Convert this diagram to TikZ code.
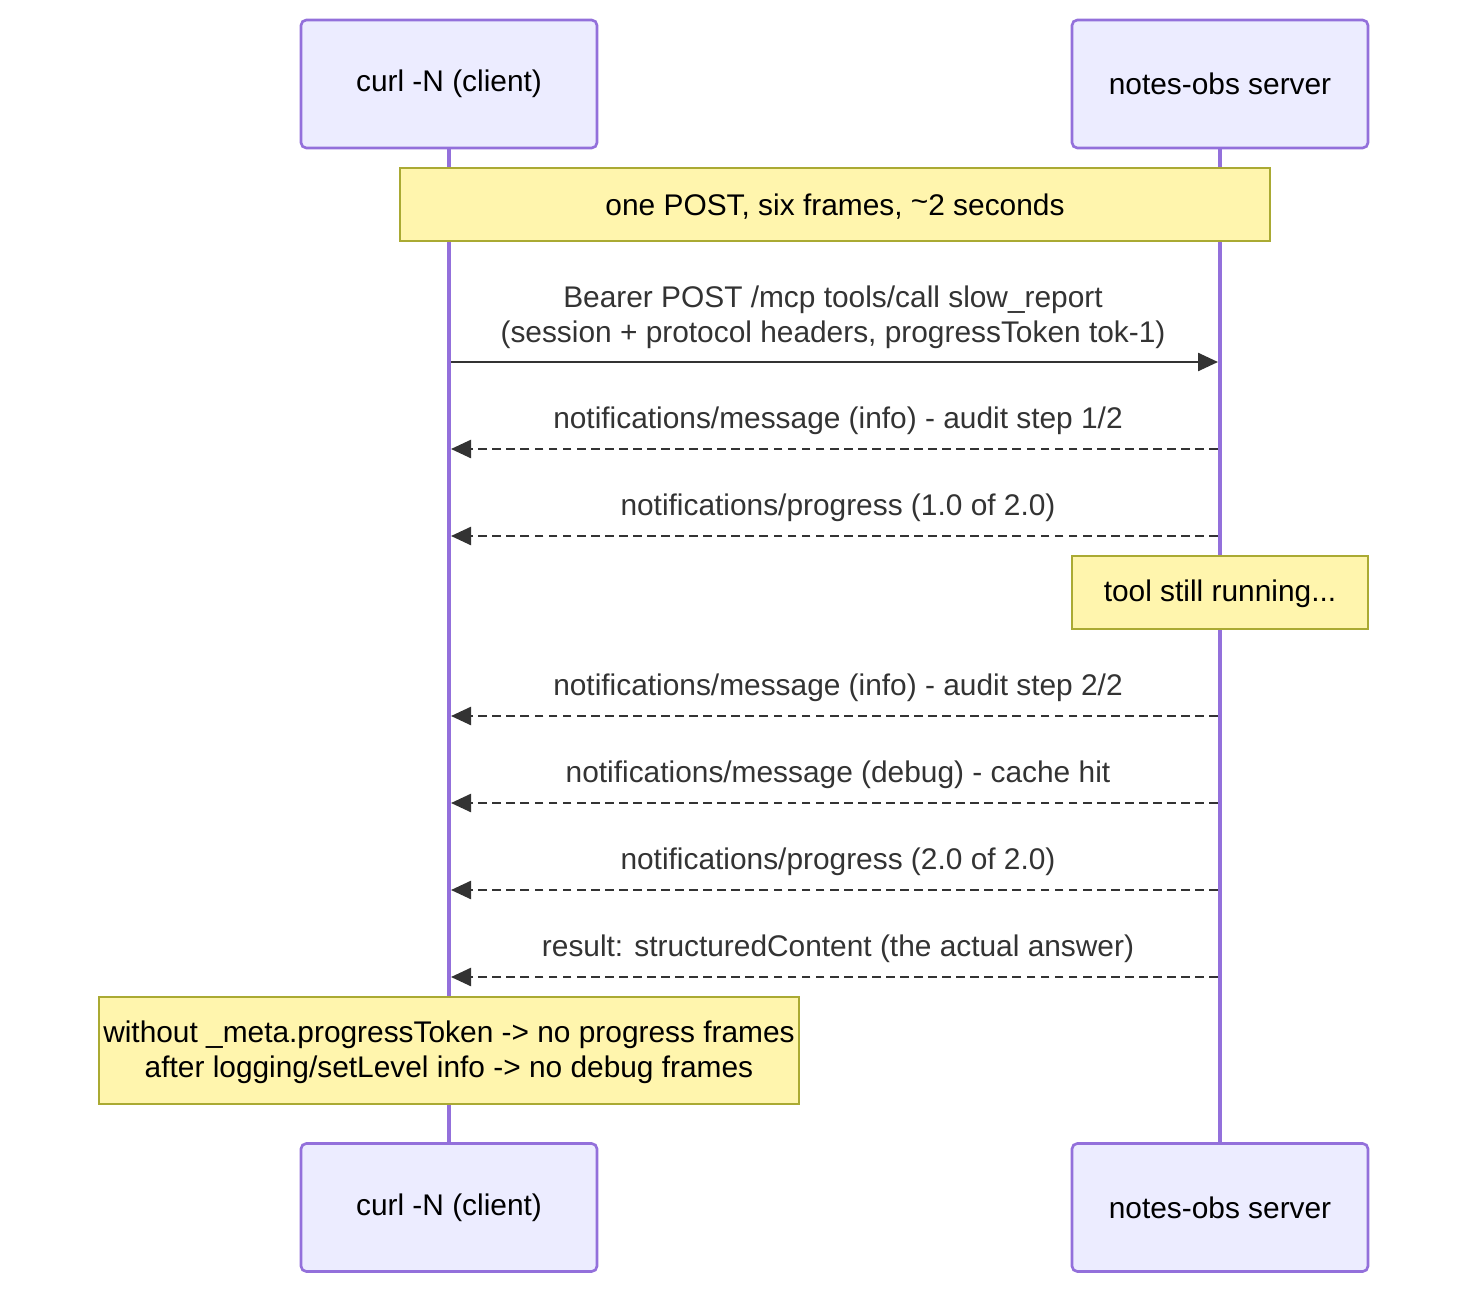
\documentclass[tikz,border=0pt]{standalone}
\usepackage{fontspec}
\setmainfont{Liberation Sans}
\usetikzlibrary{arrows.meta}
\definecolor{actorfill}{HTML}{ECECFF}
\definecolor{actorline}{HTML}{9370DB}
\definecolor{notefill}{HTML}{FFF5AD}
\definecolor{noteline}{HTML}{AAAA33}
\definecolor{msgline}{HTML}{333333}
\tikzset{
  actor/.style={draw=actorline, fill=actorfill, line width=1.5pt, rounded corners=3pt, minimum width=5.92cm, minimum height=2.56cm, font=\fontsize{17}{20}\selectfont},
  note/.style={draw=noteline, fill=notefill, line width=1.2pt, font=\fontsize{17}{20}\selectfont},
  lifeline/.style={actorline, line width=2pt},
  msg/.style={msgline, line width=1.4pt, -{Triangle[length=0.4cm,width=0.36cm]}},
  reply/.style={msg, dash pattern=on 5pt off 3pt},
  lbl/.style={text=msgline, font=\fontsize{17}{20}\selectfont, align=center}
}
\begin{document}
\begin{tikzpicture}[x=0.02cm, y=-0.02cm]
\useasboundingbox (0,0) rectangle (1484,1308);
% lifelines
\draw[lifeline] (449,148) -- (449,1144);
\draw[lifeline] (1220,148) -- (1220,1144);
% actors
\node[actor] (clientTop) at (449,84) {curl -N (client)};
\node[actor] (serverTop) at (1220,84) {notes-obs server};
\node[actor] (clientBot) at (449,1207.5) {curl -N (client)};
\node[actor] (serverBot) at (1220,1207.5) {notes-obs server};
% notes
\draw[note] (400,168) rectangle (1270,241);
\node[lbl, text=black] (noteA) at (835,207) {one POST, six frames, {\raisebox{0.3ex}{\~{}}}2 seconds};
\draw[note] (1072,556) rectangle (1368,629);
\node[lbl, text=black] (noteB) at (1220,594) {tool still running...};
\draw[note] (99,997) rectangle (799,1104);
\node[lbl, text=black] (noteC) at (449,1052) {without \_meta.progressToken -> no progress frames\\after logging/setLevel info -> no debug frames};
% message endpoints
\foreach \n/\y in {a/362,b/449,c/536,d/716,e/803,f/890,g/977} {
  \coordinate (c\n) at (451,\y);
  \coordinate (s\n) at (1218,\y);
}
\draw[msg] (ca) -- (sa);
\node[lbl] (la) at (833,317) {Bearer POST /mcp tools/call slow\_report\\(session + protocol headers, progressToken tok-1)};
\draw[reply] (sb) -- (cb);
\node[lbl] (lb) at (838,421) {notifications/message (info) - audit step 1/2};
\draw[reply] (sc) -- (cc);
\node[lbl] (lc) at (838,508) {notifications/progress (1.0 of 2.0)};
\draw[reply] (sd) -- (cd);
\node[lbl] (ld) at (838,688) {notifications/message (info) - audit step 2/2};
\draw[reply] (se) -- (ce);
\node[lbl] (le) at (838,775) {notifications/message (debug) - cache hit};
\draw[reply] (sf) -- (cf);
\node[lbl] (lf) at (838,862) {notifications/progress (2.0 of 2.0)};
\draw[reply] (sg) -- (cg);
\node[lbl] (lg) at (838,949) {result: structuredContent (the actual answer)};
\end{tikzpicture}
\end{document}
